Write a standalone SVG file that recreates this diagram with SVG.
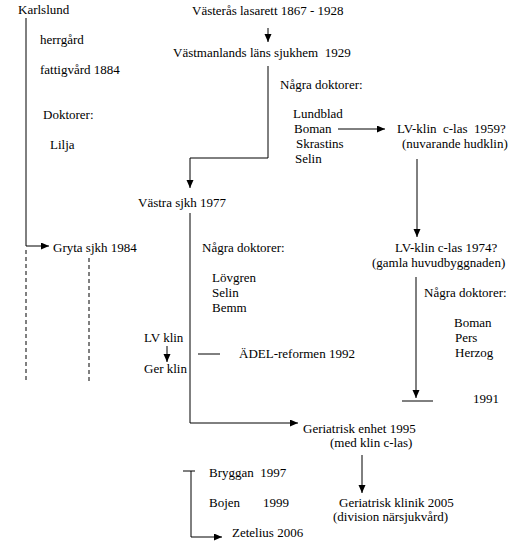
<svg xmlns="http://www.w3.org/2000/svg" width="526" height="548" viewBox="0 0 526 548">
<style>
text{font-family:'Liberation Serif','DejaVu Serif',serif;font-size:13px;fill:#000}
.ln{stroke:#000;stroke-width:1;fill:none}
.ds{stroke:#000;stroke-width:1;fill:none;stroke-dasharray:4 3}
.ar{marker-end:url(#ah)}
</style>
<defs>
<marker id="ah" markerUnits="userSpaceOnUse" markerWidth="9" markerHeight="8" refX="8" refY="3.5" orient="auto">
<path d="M0,0 L8,3.5 L0,7 z" fill="#000"/>
</marker>
</defs>
<rect width="526" height="548" fill="#fff"/>
<g id="connectors">
<path class="ln ar" d="M268,28 V42"/>
<path class="ln ar" d="M268,66 V158 H190 V188"/>
<path class="ln ar" d="M338,129 H385"/>
<path class="ln ar" d="M417,159 V237"/>
<path class="ln ar" d="M416,277 V398"/>
<path class="ln" d="M402,401 H433"/>
<path class="ln ar" d="M26,18 V246 H49"/>
<path class="ds" d="M26,250 V383"/>
<path class="ds" d="M89,258 V383"/>
<path class="ln ar" d="M190,213 V423 H298"/>
<path class="ln ar" d="M167,346 V362"/>
<path class="ln" d="M198,354 H220"/>
<path class="ln ar" d="M362,455 V493"/>
<path class="ln" d="M183,471 H195"/>
<path class="ln ar" d="M191,471 V537 H222"/>
</g>
<g id="karlslund"><text x="18" y="14">Karlslund</text><text x="40" y="44">herrgård</text><text x="40" y="74">fattigvård 1884</text><text x="43" y="119">Doktorer:</text><text x="50" y="149">Lilja</text></g>
<g id="vasteras"><text x="192" y="15">Västerås lasarett 1867 - 1928</text></g>
<g id="vastmanlands"><text x="173" y="57" xml:space="preserve">Västmanlands läns sjukhem  1929</text></g>
<g id="doktorer1"><text x="280" y="89">Några doktorer:</text><text x="293" y="118">Lundblad</text><text x="294" y="133">Boman</text><text x="296" y="148">Skrastins</text><text x="295" y="163">Selin</text></g>
<g id="lvklin1959"><text x="397" y="133" xml:space="preserve">LV-klin  c-las  1959?</text><text x="402" y="148">(nuvarande hudklin)</text></g>
<g id="vastra"><text x="138" y="207">Västra sjkh 1977</text></g>
<g id="gryta"><text x="53" y="252">Gryta sjkh 1984</text></g>
<g id="doktorer2"><text x="202" y="252">Några doktorer:</text><text x="212" y="282">Lövgren</text><text x="212" y="297">Selin</text><text x="212" y="312">Bemm</text></g>
<g id="lvklin1974"><text x="395" y="252">LV-klin c-las 1974?</text><text x="372" y="267">(gamla huvudbyggnaden)</text></g>
<g id="doktorer3"><text x="424" y="297">Några doktorer:</text><text x="454" y="327">Boman</text><text x="455" y="342">Pers</text><text x="455" y="357">Herzog</text></g>
<g id="lvklin"><text x="144" y="342">LV klin</text></g>
<g id="gerklin"><text x="144" y="373">Ger klin</text></g>
<g id="adel"><text x="239" y="358">ÄDEL-reformen 1992</text></g>
<g id="y1991"><text x="473" y="403">1991</text></g>
<g id="geriatrisk1995"><text x="303" y="433">Geriatrisk enhet 1995</text><text x="330" y="447">(med klin c-las)</text></g>
<g id="geriatrisk2005"><text x="339" y="507">Geriatrisk klinik 2005</text><text x="333" y="521">(division närsjukvård)</text></g>
<g id="bryggan"><text x="209" y="477" xml:space="preserve">Bryggan  1997</text></g>
<g id="bojen"><text x="209" y="507">Bojen</text><text x="263" y="507">1999</text></g>
<g id="zetelius"><text x="232" y="537">Zetelius 2006</text></g>
</svg>
